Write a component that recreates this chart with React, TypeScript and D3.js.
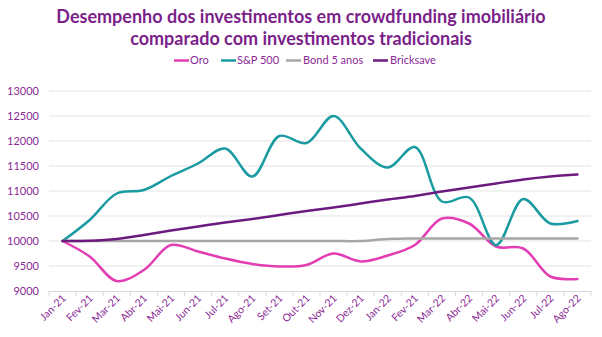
import React from "react";
import * as d3 from "d3";

const categories = ["Jan-21","Fev-21","Mar-21","Abr-21","Mai-21","Jun-21","Jul-21","Ago-21","Set-21","Out-21","Nov-21","Dez-21","Jan-22","Fev-21","Mar-22","Abr-22","Mai-22","Jun-22","Jul-22","Ago-22"];
const oro = [10000,9690,9200,9420,9920,9790,9650,9540,9490,9520,9750,9590,9710,9920,10450,10350,9890,9850,9290,9240];
const sp500 = [10000,10420,10950,11020,11300,11550,11850,11290,12100,11960,12500,11850,11470,11880,10790,10870,9920,10840,10350,10400];
const bond = [10000,10000,10000,10000,10000,10000,10000,10000,10000,10000,10000,10000,10040,10050,10050,10050,10050,10050,10050,10050];
const bricksave = [10000,10005,10040,10120,10210,10290,10370,10440,10520,10600,10670,10750,10830,10900,10990,11070,11150,11230,11290,11330];
const yTicks = [9000,9500,10000,10500,11000,11500,12000,12500,13000];
const seriesNames = ["Oro","S&P 500","Bond 5 anos","Bricksave"];

const colors = ["#E23DB2","#1A9BA1","#A6A6A6","#6C1A7E"];
const textColor = "#8A2A96";
const font = "Lato, 'Open Sans', sans-serif";

export default function App() {
  const W = 602, H = 337;
  const left = 49, right = 591, top = 91, bottom = 291;
  const x = d3.scaleBand<string>().domain(categories.map((c, i) => i + "")).range([left, right]);
  const y = d3.scaleLinear().domain([9000, 13000]).range([bottom, top]);
  const allSeries = [oro, sp500, bond, bricksave];
  const line = d3.line<number>()
    .x((_, i) => (x(i + "") as number) + x.bandwidth() / 2)
    .y((d) => y(d))
    .curve(d3.curveCatmullRom.alpha(0.5));
  const legendItems = [
    { lx: 174, tx: 190 },
    { lx: 221, tx: 237 },
    { lx: 286, tx: 303 },
    { lx: 373, tx: 390 },
  ];
  return (
    <svg width={W} height={H} style={{ position: "absolute", left: 0, top: 0, background: "#fff" }} fontFamily={font}>
      <text x={301} y={23} textAnchor="middle" fontSize={18} fontWeight="bold" fill="#7B1F8A">Desempenho dos investimentos em crowdfunding imobiliário</text>
      <text x={301} y={45} textAnchor="middle" fontSize={18} fontWeight="bold" fill="#7B1F8A">comparado com investimentos tradicionais</text>
      {legendItems.map((it, i) => (
        <g key={i}>
          <line x1={it.lx} x2={it.lx + 15} y1={60.5} y2={60.5} stroke={colors[i]} strokeWidth={2.5} />
          <text x={it.tx} y={64} fontSize={11} fill={textColor}>{seriesNames[i]}</text>
        </g>
      ))}
      {yTicks.map((t) => (
        <g key={t}>
          {t !== 9000 && <line x1={left} x2={right} y1={y(t)} y2={y(t)} stroke="#E3E3E3" strokeWidth={1} />}
          <text x={39} y={y(t) + 4} textAnchor="end" fontSize={11} fill={textColor}>{t}</text>
        </g>
      ))}
      <line x1={left} x2={right} y1={bottom + 0.5} y2={bottom + 0.5} stroke="#D9D9D9" strokeWidth={1} />
      {d3.range(categories.length + 1).map((i) => {
        const xx = left + i * x.bandwidth();
        return <line key={i} x1={xx} x2={xx} y1={bottom} y2={bottom + 5} stroke="#D9D9D9" strokeWidth={1} />;
      })}
      {categories.map((c, i) => {
        const cx = (x(i + "") as number) + x.bandwidth() / 2;
        return (
          <text key={i} transform={`translate(${cx + 4},${bottom + 8}) rotate(-45)`} textAnchor="end" fontSize={10.5} fill={textColor}>{c}</text>
        );
      })}
      {allSeries.map((s, i) => (
        <path key={i} d={line(s) || ""} fill="none" stroke={colors[i]} strokeWidth={2.5} strokeLinejoin="round" strokeLinecap="round" />
      ))}
    </svg>
  );
}
